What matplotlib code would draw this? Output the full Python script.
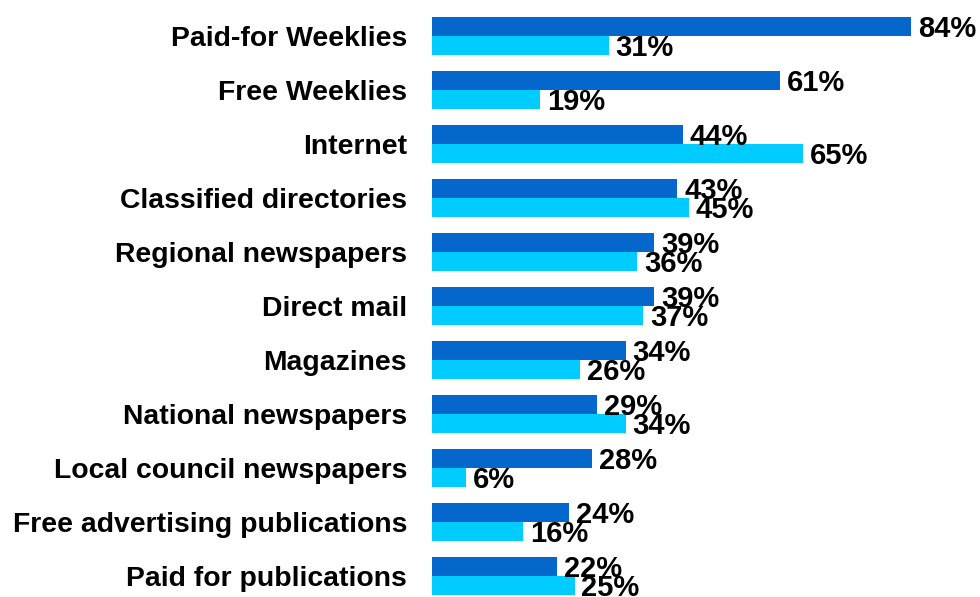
import matplotlib.pyplot as plt
import numpy as np

plt.rcParams["font.family"] = ["Liberation Sans", "DejaVu Sans"]

categories = ["Paid-for Weeklies", "Free Weeklies", "Internet", "Classified directories",
              "Regional newspapers", "Direct mail", "Magazines", "National newspapers",
              "Local council newspapers", "Free advertising publications", "Paid for publications"]
series_a = [84, 61, 44, 43, 39, 39, 34, 29, 28, 24, 22]
series_b = [31, 19, 65, 45, 36, 37, 26, 34, 6, 16, 25]

DARK = "#0566CC"
CYAN = "#00CCFF"

fig = plt.figure(figsize=(9.8, 5.97), dpi=100)
ax = fig.add_axes([432 / 980, 0, 548 / 980, 1])

y = np.arange(len(categories))
h = 0.36
ax.barh(y - h / 2, series_a, height=h, color=DARK)
ax.barh(y + h / 2, series_b, height=h, color=CYAN)

# value labels just past the bar ends, nudged down to sit on the bar centre
dy = 0.05
for yi, a, b in zip(y, series_a, series_b):
    ax.text(a + 1.2, yi - h / 2 + dy, f"{a}%", va="center", ha="left",
            fontsize=21, fontweight="bold")
    ax.text(b + 1.2, yi + h / 2 + dy, f"{b}%", va="center", ha="left",
            fontsize=21, fontweight="bold")

ax.set_xlim(0, 96.1)
ax.set_ylim(10.389, -0.667)
ax.set_yticks(y)
ax.set_yticklabels(categories, fontsize=20.4, fontweight="bold")
ax.tick_params(axis="y", length=0, pad=18)
ax.set_xticks([])
for s in ax.spines.values():
    s.set_visible(False)

fig.savefig("out.png", dpi=100)
